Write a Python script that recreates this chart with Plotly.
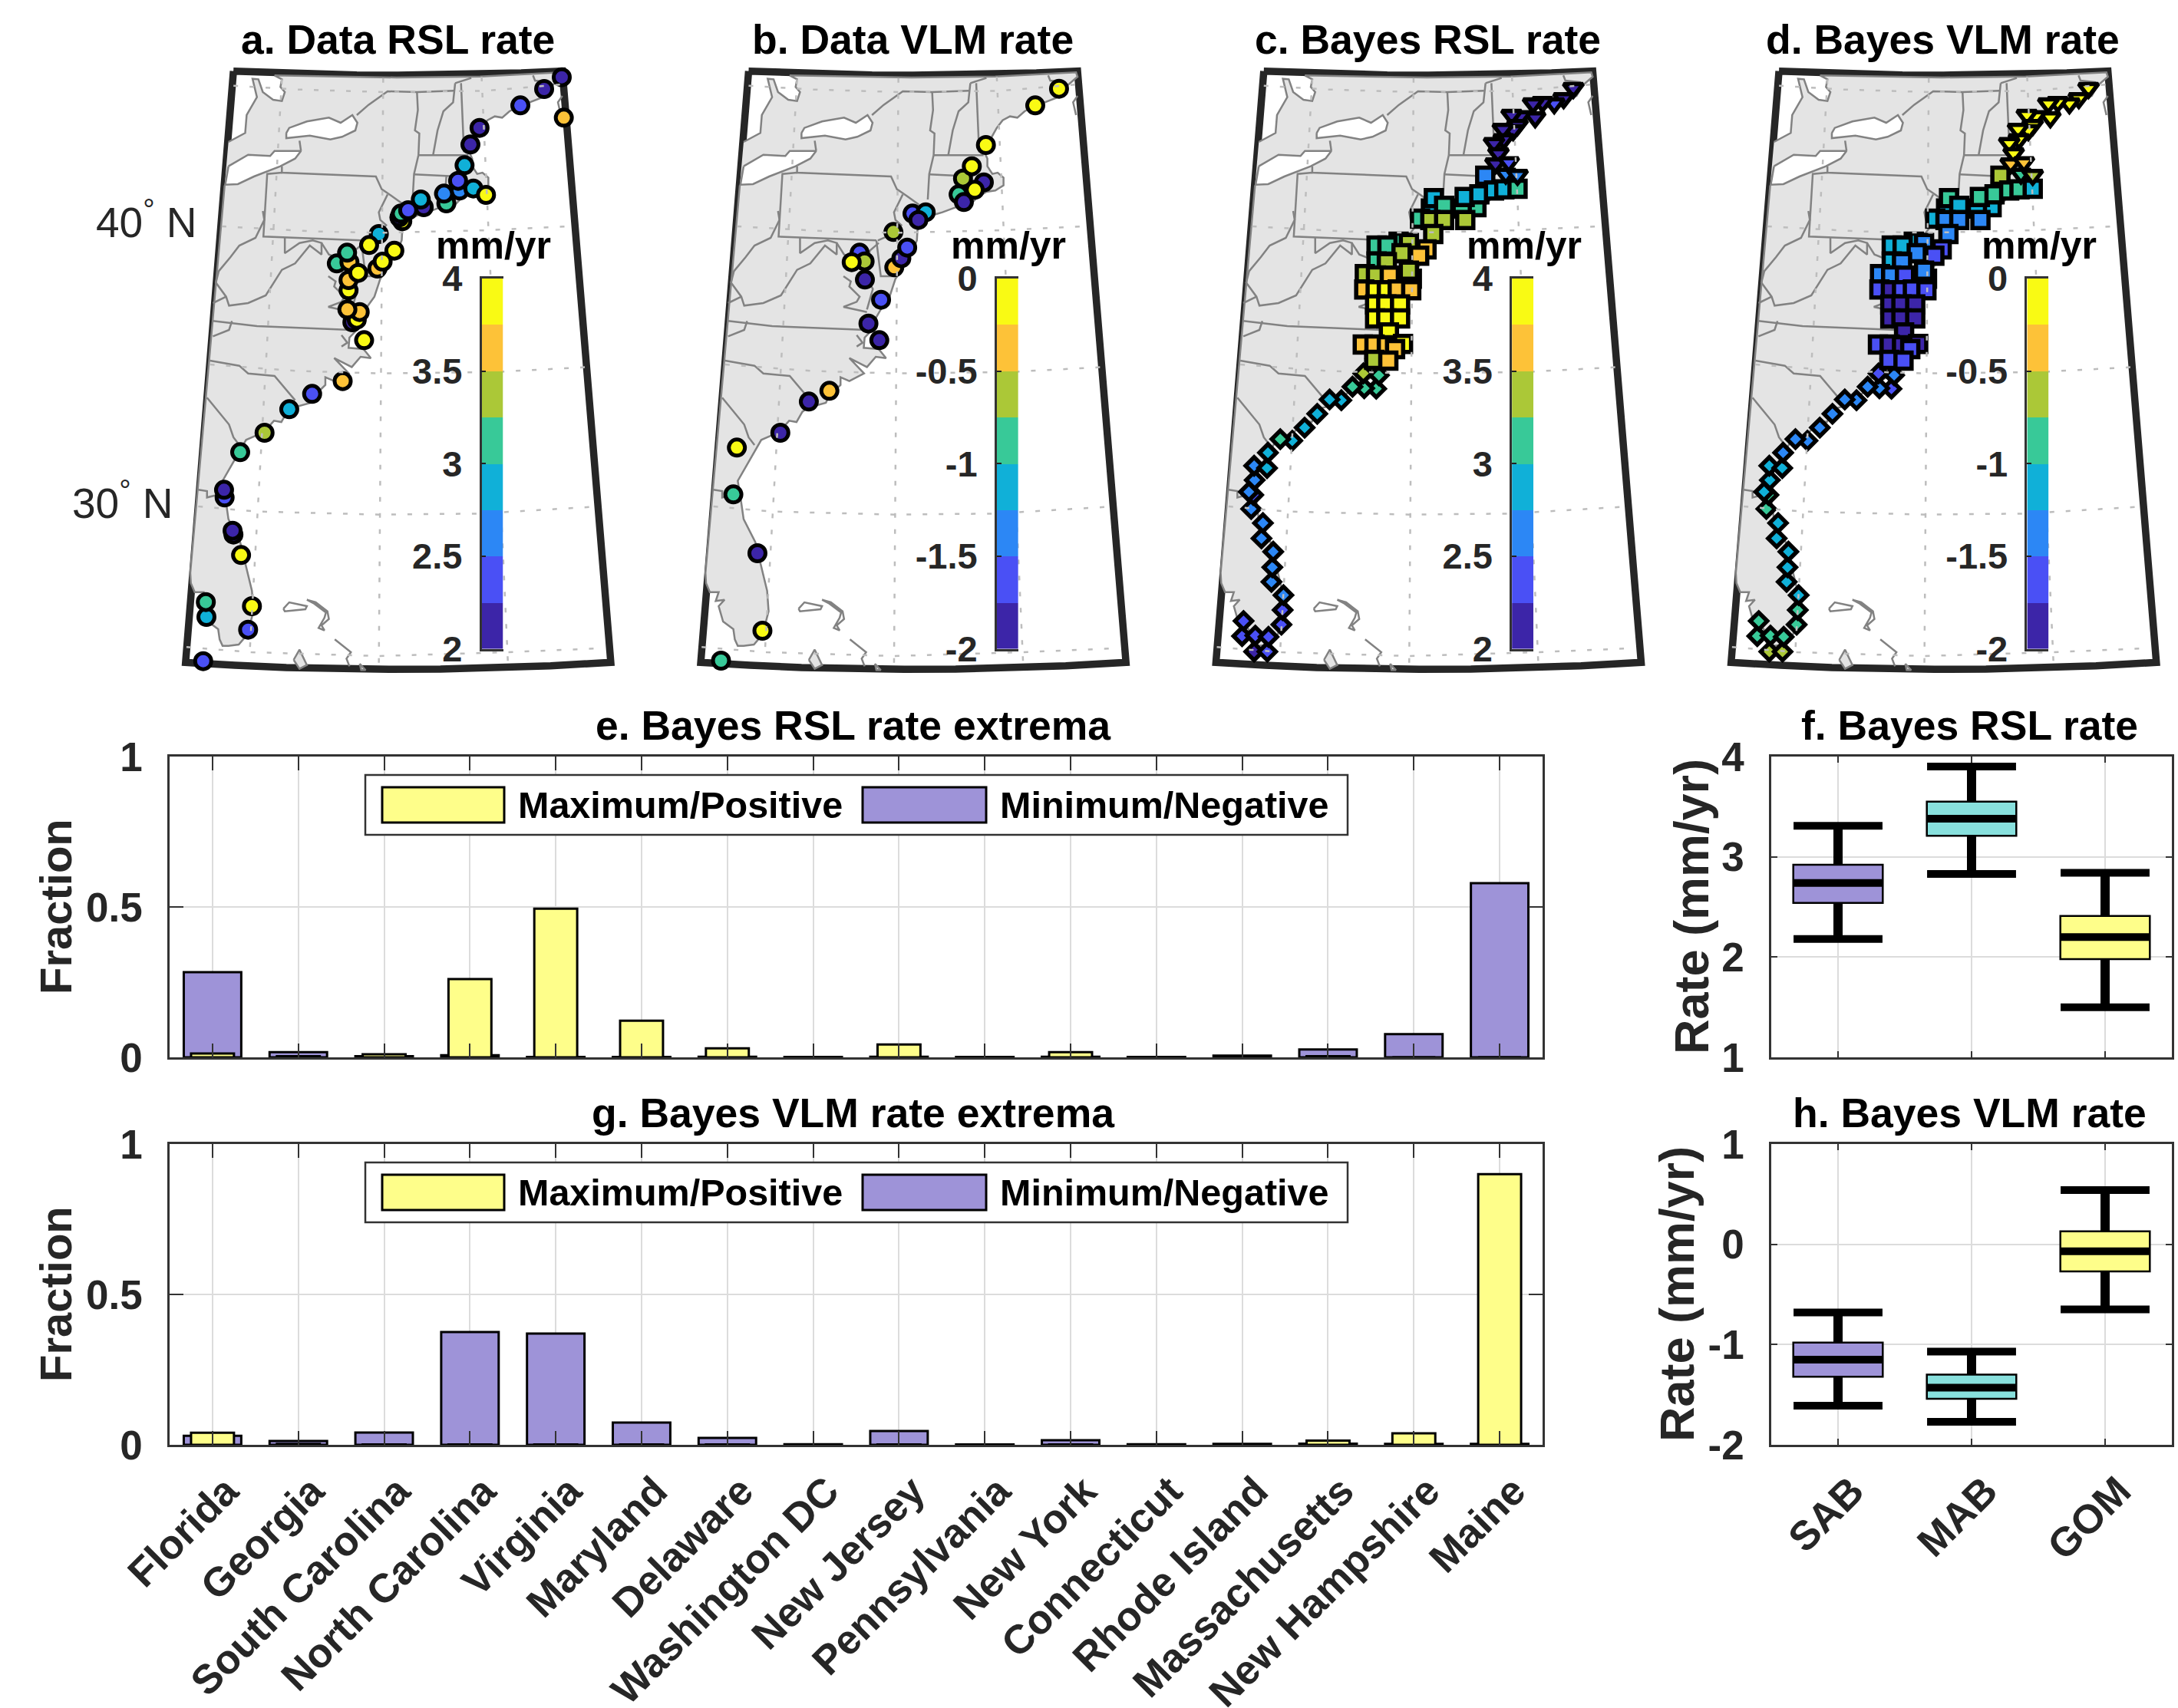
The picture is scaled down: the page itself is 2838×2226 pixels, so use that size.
import plotly.graph_objects as go

W, H = 2838, 2226
INK = "#262626"
FONT = "Liberation Sans"
PALETTE = ["#3C25A8", "#4A50F5", "#2C87F5", "#10B0D8", "#38C998", "#ABC837", "#FDC238", "#F9FA14"]

# ---------- map plane coordinates (u, v) shared by the four maps ----------
frame = [(220,68),(360,75),(500,80),(640,83),(780,84),(920,83),(1060,80),(1200,75),(1340,68),(1505,2380),(1300,2393),(1100,2402),(925,2406),(750,2407),(575,2405),(400,2400),(225,2391),(57,2380),(220,68)]
land = [(203,345),(260,310),(265,240),(300,170),(285,98),(305,100),(320,150),(355,180),(385,185),(395,150),(380,130),(385,100),(360,85),
        (570,90),(775,93),(1060,89),(1335,73),(1340,90),(1325,105),(1305,125),(1285,165),(1250,180),(1228,190),(1195,205),(1160,225),
        (1135,250),(1110,245),(1085,260),(1065,290),(1048,325),(1023,385),(1033,410),(1033,440),(1050,470),(1068,465),(1088,485),(1088,515),
        (1060,535),(1030,540),(1000,560),(975,590),(953,590),(915,605),(880,620),(850,630),(815,650),(800,660),(795,690),(793,730),(775,780),
        (755,815),(740,850),(720,880),(700,950),(675,990),(650,1040),(640,1080),(615,1110),(612,1150),(663,1155),(688,1190),(653,1185),
        (623,1225),(563,1190),(613,1250),(563,1280),(533,1265),(533,1295),(493,1340),(483,1365),(420,1385),(403,1400),(383,1440),(358,1435),
        (323,1480),(263,1510),(238,1560),(213,1610),(183,1670),(193,1740),(203,1820),(243,1910),(268,2030),(283,2100),(288,2180),(268,2270),
        (238,2310),(203,2315),(183,2315),(173,2290),(168,2250),(133,2220),(118,2160),(138,2135),(108,2140),(118,2105),(88,2105),(75,2070),
        (73,2030),(135,1230),(190,515)]
lake_ontario = [(400,310),(410,290),(470,265),(545,250),(585,270),(625,240),(642,270),(635,300),(590,325),(550,335),(480,320),(400,330),(400,310)]
lake_erie = [(203,440),(270,395),(345,400),(360,380),(450,380),(430,410),(380,440),(290,480),(235,510),(192,512),(203,440)]
cuba = [(425,2370),(445,2330),(470,2390),(445,2405),(425,2370)]
cay = [(650,2385),(670,2410),(655,2410),(650,2385)]
borders = [
    [(640,240),(680,200),(745,147),(845,150),(970,145)],
    [(995,115),(1005,385)],
    [(975,115),(968,190),(935,225),(915,300),(900,395)],
    [(975,115),(1020,100),(1030,95)],
    [(1240,85),(1247,105),(1300,112)],
    [(845,150),(848,220),(838,300),(853,312),(850,397)],
    [(850,397),(1020,397)],
    [(850,397),(835,470),(830,570)],
    [(835,472),(985,480)],
    [(945,480),(940,560)],
    [(450,380),(445,340)],
    [(385,440),(385,465),(705,480),(725,530),(745,545),(800,590)],
    [(385,465),(335,470),(322,715),(640,730),(655,730)],
    [(745,550),(715,620),(720,650),(740,670),(720,700),(660,730)],
    [(655,730),(670,870),(720,870)],
    [(320,615),(325,650),(295,720),(240,750),(210,795),(170,850),(160,895),(195,950),(205,985),(270,975),(330,945),(385,845),(430,820),
     (480,750),(520,785),(520,740),(490,730),(445,740),(395,780),(395,720)],
    [(520,740),(545,785),(600,810)],
    [(150,975),(195,950)],
    [(150,1045),(300,1065),(620,1080)],
    [(215,1045),(205,1080),(150,1105)],
    [(140,1200),(240,1220),(270,1250),(360,1260),(430,1355)],
    [(130,1345),(175,1410),(205,1450),(220,1500),(240,1530)],
    [(100,1705),(130,1710),(130,1735),(165,1725)],
    [(663,740),(633,770),(628,800),(623,880),(643,920),(633,960),(623,1000)],
    [(543,870),(568,890),(563,910),(598,950),(588,970),(543,990),(603,1005),(623,1010)],
    [(588,1100),(608,1130),(588,1145)],
    [(1340,165),(1325,190),(1335,240)],
]
islands = [
    [(390,2170),(410,2145),(470,2160),(465,2172),(395,2180),(390,2170)],
    [(470,2135),(500,2145),(540,2180),(545,2210),(520,2235),(530,2255),(510,2245),(530,2205),(535,2185),(495,2150),(470,2135)],
    [(565,2290),(620,2340),(605,2365),(615,2395)],
]
meridians = [[(385,100),(275,2350)], [(730,95),(715,2400)], [(1065,90),(1155,2390)]]
parallels = [
    [(220,125),(440,140),(730,150),(1075,145),(1340,120)],
    [(180,675),(500,695),(730,700),(1090,690),(1360,675)],
    [(140,1215),(430,1240),(720,1250),(1100,1245),(1430,1225)],
    [(100,1770),(300,1790),(720,1802),(1060,1798),(1440,1772)],
    [(60,2320),(280,2340),(715,2355),(1150,2340),(1470,2325)],
]

# ---------- tide gauge / GPS sites ----------
sites_a_xy = [(1338,92),(1278,138),(1197,202),(1345,250),(1058,290),(1027,355),(1007,436),(990,535),(945,585),(1037,527),(1080,552),(937,547),
              (985,497),(868,600),(858,570),(795,655),(785,640),(790,625),(815,612),(715,705),(682,748),(768,770),(710,840),(728,813),(572,820),
              (615,815),(607,778),(612,925),(612,885),(645,857),(625,1050),(640,1040),(650,1010),(608,1000),(665,1120),(592,1280),(488,1330),
              (410,1390),(326,1482),(243,1558),(190,1735),(188,1705),(220,1880),(217,1865),(246,1960),(283,2160),(128,2202),(126,2144),(270,2252),(117,2375)]
sites_a_rate = [2.1,2.1,2.4,3.6,2.1,2.1,2.9,2.6,3.1,2.9,3.9,2.6,2.4,2.1,2.9,3.9,2.1,3.1,2.4,2.9,3.9,3.9,3.6,3.9,3.1,3.6,3.1,3.9,3.6,3.9,2.1,3.9,3.6,3.6,3.9,
                3.6,2.4,2.9,3.4,3.1,2.4,2.1,2.1,2.1,3.9,3.9,2.9,3.1,2.4,2.4]
sites_b_xy = [(1277,137),(1196,202),(1028,357),(1021,503),(935,550),(953,580),(950,488),(980,440),(990,532),(778,625),(823,620),(798,650),(713,697),
              (716,835),(740,800),(760,758),(598,778),(615,812),(571,815),(616,883),(671,962),(628,1055),(665,1120),(495,1318),(425,1360),(328,1482),
              (180,1540),(168,1723),(250,1953),(267,2256),(126,2373)]
sites_b_rate = [-0.1,-0.1,-0.1,-1.9,-0.9,-1.9,-0.6,-0.1,-0.1,-1.6,-1.1,-1.9,-0.6,-0.4,-1.9,-1.6,-1.6,-0.6,-0.1,-1.9,-1.6,-1.9,-1.9,-0.4,-1.9,-1.9,-0.1,-0.9,-1.9,-0.1,-0.9]

# ---------- Bayesian model grid, by region ----------
gom_xy = [(1274,135),(1241,175),(1209,195),(1169,190),(1137,195),(1144,250),(1094,245),(1064,240),(1084,280),(1069,300),(1034,295),(1037,335),(1004,350),(1019,390),(1009,430),(1054,425),(1044,470),(1084,475)]
gom_rsl = [2.1,2.1,2.4,2.1,2.1,2.1,2.1,2.1,2.1,2.1,2.1,2.1,2.1,2.1,2.1,2.4,2.6,2.6]
gom_vlm = [-0.1,-0.1,-0.1,-0.1,-0.1,-0.1,-0.1,-0.1,-0.1,-0.1,-0.1,-0.1,-0.1,-0.1,-0.4,-0.4,-0.9,-0.6]
mab_xy = [(944,600),(894,605),(789,605),(799,565),(834,595),(974,477),(904,560),(954,550),(1004,535),(1039,530),(1084,528),(752,645),(787,650),(834,650),(906,650),(797,705),
          (679,735),(714,740),(604,750),(641,750),(774,765),(749,790),(689,780),(604,812),(639,815),(564,862),(602,867),(649,868),(724,880),(714,848),
          (562,922),(601,925),(639,925),(676,922),(722,925),(599,980),(637,980),(684,980),(599,1035),(637,1035),(684,1035),(646,1090),
          (694,1135),(557,1137),(597,1137),(639,1140),(667,1155),(596,1197),(644,1200)]
mab_rsl = [3.1,3.1,2.9,2.9,3.1,2.6,2.9,2.9,2.9,2.9,3.1,3.1,3.4,3.4,3.4,3.4,3.1,3.4,3.1,3.1,3.6,3.6,3.4,3.1,3.4,3.4,3.4,3.6,3.6,3.4,
           3.6,3.9,3.9,3.6,3.6,3.9,3.9,3.9,3.9,3.9,3.9,3.9,3.9,3.6,3.6,3.6,3.6,3.4,3.6]
mab_vlm = [-1.1,-1.1,-1.1,-0.9,-1.1,-0.6,-0.9,-0.9,-0.9,-0.9,-1.1,-1.1,-1.4,-1.4,-1.4,-1.4,-1.1,-1.4,-1.1,-1.1,-1.6,-1.6,-1.4,-1.1,-1.4,-1.4,-1.4,-1.6,-1.9,-1.4,
           -1.6,-1.9,-1.6,-1.6,-1.6,-1.9,-1.9,-1.9,-1.9,-1.9,-1.9,-1.9,-1.9,-1.6,-1.9,-1.9,-1.6,-1.6,-1.6]
sab_xy = [(187,2338),(232,2338),(146,2277),(191,2275),(236,2280),(151,2218),(280,2232),(284,2175),(287,2117),(246,2065),(249,2008),(252,1947),(212,1895),(217,1835),(177,1780),
          (184,1725),(169,1713),(189,1667),(187,1611),(231,1620),(234,1560),(317,1513),(276,1507),(359,1462),(402,1408),(484,1355),(444,1352),(603,1310),(562,1308),(522,1302),(612,1257),(559,1250)]
sab_rsl = [2.1,2.4,2.4,2.4,2.4,2.4,2.4,2.4,2.6,2.6,2.6,2.6,2.6,2.6,2.6,2.4,2.6,2.6,2.6,2.9,2.9,2.9,3.1,2.9,2.9,2.9,2.9,3.1,3.1,3.1,3.1,3.4]
sab_vlm = [-0.6,-0.6,-0.9,-0.9,-0.9,-0.9,-0.9,-0.9,-1.1,-1.1,-1.1,-1.1,-1.1,-1.1,-0.9,-0.9,-1.1,-1.1,-1.1,-1.1,-1.4,-1.4,-1.4,-1.4,-1.4,-1.4,-1.4,-1.6,-1.4,-1.4,-1.4,-1.6]

# ---------- bar charts ----------
states = ["Florida","Georgia","South Carolina","North Carolina","Virginia","Maryland","Delaware","Washington DC","New Jersey",
          "Pennsylvania","New York","Connecticut","Rhode Island","Massachusetts","New Hampshire","Maine"]
rsl_max = [0.013,0.004,0.010,0.260,0.494,0.122,0.030,0.000,0.043,0.001,0.017,0.001,0.002,0.004,0.000,0.000]
rsl_min = [0.283,0.017,0.004,0.007,0.001,0.001,0.002,0.001,0.002,0.001,0.002,0.001,0.006,0.026,0.077,0.579]
vlm_max = [0.040,0.003,0.001,0.001,0.001,0.001,0.001,0.000,0.001,0.000,0.001,0.000,0.001,0.014,0.038,0.900]
vlm_min = [0.030,0.013,0.041,0.375,0.370,0.074,0.023,0.002,0.046,0.001,0.015,0.002,0.003,0.004,0.003,0.003]

# ---------- regional box plots ----------
regions = ["SAB","MAB","GOM"]
box_colors = ["#9E93D8","#88E0DD","#FEFE8A"]
rsl_low, rsl_q1, rsl_med, rsl_q3, rsl_up = [2.18,2.83,1.50],[2.54,3.21,1.98],[2.74,3.38,2.20],[2.92,3.55,2.41],[3.31,3.90,2.84]
vlm_low, vlm_q1, vlm_med, vlm_q3, vlm_up = [-1.61,-1.77,-0.65],[-1.32,-1.54,-0.27],[-1.15,-1.43,-0.07],[-0.98,-1.30,0.13],[-0.68,-1.07,0.54]

map_titles = ["a. Data RSL rate","b. Data VLM rate","c. Bayes RSL rate","d. Bayes VLM rate"]
cbar_ticks_rsl = [2,2.5,3,3.5,4]
cbar_ticks_vlm = [-2,-1.5,-1,-0.5,0]
cbar_text_rsl = ["2","2.5","3","3.5","4"]
cbar_text_vlm = ["-2","-1.5","-1","-0.5","0"]

# ---------- helpers ----------
def fx(px): return px / W
def fy(py): return 1 - py / H
def xs(p): return [a for a, _ in p]
def ys(p): return [b for _, b in p]
def multi(paths):
    X, Y = [], []
    for p in paths:
        X += xs(p) + [None]; Y += ys(p) + [None]
    return X, Y

steps = []
for i, c in enumerate(PALETTE):
    steps += [[i / 8, c], [(i + 1) / 8, c]]

fig = go.Figure()
layout = dict(template="none", width=W, height=H, margin=dict(l=0, r=0, t=0, b=0, pad=0), paper_bgcolor="white", plot_bgcolor="rgba(0,0,0,0)",
              showlegend=False, barmode="overlay", font=dict(family=FONT, color=INK), hovermode=False)
anns, shapes = [], []

def txt(x, y, s, size, weight="bold", color=INK, angle=0, xanchor="center"):
    anns.append(dict(xref="paper", yref="paper", x=fx(x), y=fy(y), text=s, showarrow=False, xanchor=xanchor, yanchor="middle",
                     font=dict(family=FONT, size=size, color=color, weight=weight), textangle=angle))

STEP = 671.3
MAP_X0 = 220
for i in range(4):
    n = i + 1
    sx = "" if n == 1 else str(n)
    x0 = MAP_X0 + STEP * i
    layout[f"xaxis{sx}"] = dict(domain=[fx(x0), fx(x0 + 600)], range=[0, 1568], visible=False, fixedrange=True)
    layout[f"yaxis{sx}"] = dict(domain=[fy(970), fy(70)], range=[2700, 0], visible=False, fixedrange=True)
    ax = dict(xaxis=f"x{sx}", yaxis=f"y{sx}", hoverinfo="skip", cliponaxis=False)
    fig.add_trace(go.Scatter(x=xs(frame), y=ys(frame), mode="lines", line=dict(color=INK, width=9.5), **ax))
    fig.add_trace(go.Scatter(x=xs(land), y=ys(land), mode="lines", fill="toself", fillcolor="#E4E4E4", line=dict(color="#828282", width=2.5), **ax))
    for poly, col in ((lake_ontario, "white"), (lake_erie, "white"), (cuba, "#E4E4E4"), (cay, "#E4E4E4")):
        fig.add_trace(go.Scatter(x=xs(poly), y=ys(poly), mode="lines", fill="toself", fillcolor=col, line=dict(color="#828282", width=2.5), **ax))
    bx, by = multi(borders + islands)
    fig.add_trace(go.Scatter(x=bx, y=by, mode="lines", line=dict(color="#828282", width=2.5), **ax))

    cmin, cmax = (2, 4) if i in (0, 2) else (-2, 0)
    def pts(xy, vals, symbol, size, lw):
        fig.add_trace(go.Scatter(x=xs(xy), y=ys(xy), mode="markers",
                                 marker=dict(symbol=symbol, size=size, color=vals, colorscale=steps, cmin=cmin, cmax=cmax,
                                             showscale=False, line=dict(color="black", width=lw)), **ax))
    if i == 0:
        pts(sites_a_xy, sites_a_rate, "circle", 21, 5)
    elif i == 1:
        pts(sites_b_xy, sites_b_rate, "circle", 21, 5)
    elif i == 2:
        pts(sab_xy, sab_rsl, "diamond", 17, 5.5)
        pts(mab_xy, mab_rsl, "square", 21, 5.5)
        pts(gom_xy, gom_rsl, "triangle-down", 22, 5.5)
    else:
        pts(sab_xy, sab_vlm, "diamond", 17, 5.5)
        pts(mab_xy, mab_vlm, "square", 21, 5.5)
        pts(gom_xy, gom_vlm, "triangle-down", 22, 5.5)

    gx, gy = multi(meridians + parallels)
    fig.add_trace(go.Scatter(x=gx, y=gy, mode="lines", line=dict(color="#BDBDBD", width=2.5, dash="6px,15px"), **ax))

    # colour bar as a small heat map on its own axis
    k = 5 + i
    cx0 = 627.5 + STEP * i
    layout[f"xaxis{k}"] = dict(domain=[fx(cx0), fx(cx0 + 28)], range=[-0.5, 0.5], showticklabels=False, ticks="", showgrid=False,
                               showline=True, mirror=True, linecolor="#333333", linewidth=2.5, zeroline=False, anchor=f"y{k}", fixedrange=True)
    tv, tt = (cbar_ticks_rsl, cbar_text_rsl) if i in (0, 2) else (cbar_ticks_vlm, cbar_text_vlm)
    layout[f"yaxis{k}"] = dict(domain=[fy(845.5), fy(363)], range=[cmin, cmax], tickvals=tv, ticktext=tt, ticks="inside", ticklen=6, tickwidth=2,
                               tickcolor="#222222", showgrid=False, zeroline=False, showline=True, linecolor="#333333", linewidth=2.5, anchor=f"x{k}",
                               tickfont=dict(family=FONT, size=47, color=INK, weight="bold"), ticklabelstandoff=13, fixedrange=True)
    bands = [cmin + (j + 0.5) * 0.25 for j in range(8)]
    fig.add_trace(go.Heatmap(x=[0], y=bands, z=[[b] for b in bands], zmin=cmin, zmax=cmax, colorscale=steps, showscale=False, xaxis=f"x{k}", yaxis=f"y{k}", hoverinfo="skip"))
    txt(643 + STEP * i, 320, "mm/yr", 50, color="black")
    txt(518 + STEP * i, 51, map_titles[i], 53.5, color="black")

txt(259, 286, "40<sup>°</sup> N", 55, weight="normal", xanchor="right")
txt(228, 652, "30<sup>°</sup> N", 55, weight="normal", xanchor="right")

def base_axes(k, x0, x1, y0, y1, yrange, yticks, ytext, xvals, xtext, xrange, ticklen, labels, standoff):
    layout[f"xaxis{k}"] = dict(domain=[fx(x0), fx(x1)], range=xrange, tickvals=xvals, ticktext=xtext if labels else None, showticklabels=labels,
                               tickangle=-45, ticks="inside", ticklen=ticklen, tickwidth=2, tickcolor="#333333", showgrid=True, gridcolor="#DCDCDC", gridwidth=2,
                               zeroline=False, showline=True, mirror="ticks", linecolor="#333333", linewidth=2.5, anchor=f"y{k}", ticklabelshift=18, ticklabelstandoff=5,
                               tickfont=dict(family=FONT, size=53, color=INK, weight="bold"), fixedrange=True)
    layout[f"yaxis{k}"] = dict(domain=[fy(y1), fy(y0)], range=yrange, tickvals=yticks, ticktext=ytext, ticks="inside", ticklen=ticklen, tickwidth=2, tickcolor="#333333",
                               showgrid=True, gridcolor="#DCDCDC", gridwidth=2, zeroline=False, showline=True, mirror="ticks", linecolor="#333333", linewidth=2.5,
                               anchor=f"x{k}", tickfont=dict(family=FONT, size=53, color=INK, weight="bold"), ticklabelstandoff=standoff, fixedrange=True)

positions = list(range(1, 17))
for k, y0, ymax, ymin, title, show, dy in ((9, 986, rsl_max, rsl_min, "e. Bayes RSL rate extrema", False, 0),
                                          (10, 1491, vlm_max, vlm_min, "g. Bayes VLM rate extrema", True, 505)):
    base_axes(k, 221, 2010, y0, y0 + 392, [0, 1], [0, 0.5, 1], ["0", "0.5", "1"], positions, states, [0.5, 16.5], 18, show, 22)
    fig.add_trace(go.Bar(x=positions, y=ymin, width=0.67, marker=dict(color="#9E93D8", line=dict(color="black", width=3)), xaxis=f"x{k}", yaxis=f"y{k}", hoverinfo="skip"))
    fig.add_trace(go.Bar(x=positions, y=ymax, width=0.5, marker=dict(color="#FEFE8A", line=dict(color="black", width=3)), xaxis=f"x{k}", yaxis=f"y{k}", hoverinfo="skip"))
    txt(1112, 945 + dy, title, 53.5, color="black")
    txt(72, 1182 + dy, "Fraction", 58, angle=-90)
    shapes.append(dict(type="rect", xref="paper", yref="paper", x0=fx(476), x1=fx(1756), y0=fy(1010 + dy), y1=fy(1088 + dy), fillcolor="white", line=dict(color="#333333", width=2.5)))
    shapes.append(dict(type="rect", xref="paper", yref="paper", x0=fx(498), x1=fx(657), y0=fy(1026 + dy), y1=fy(1072 + dy), fillcolor="#FEFE8A", line=dict(color="black", width=3)))
    shapes.append(dict(type="rect", xref="paper", yref="paper", x0=fx(1124), x1=fx(1285), y0=fy(1026 + dy), y1=fy(1072 + dy), fillcolor="#9E93D8", line=dict(color="black", width=3)))
    txt(673, 1049 + dy, "Maximum/Positive", 48.5, color="black", xanchor="left")
    txt(1301, 1049 + dy, "Minimum/Negative", 48.5, color="black", xanchor="left")

box_x = [1, 2, 3]
for k, y0, rng, ticks, ttext, low, q1, med, q3, up, title, show, dy, lx in (
        (11, 986, [1, 4], [1, 2, 3, 4], ["1", "2", "3", "4"], rsl_low, rsl_q1, rsl_med, rsl_q3, rsl_up, "f. Bayes RSL rate", False, 0, 2204),
        (12, 1491, [-2, 1], [-2, -1, 0, 1], ["-2", "-1", "0", "1"], vlm_low, vlm_q1, vlm_med, vlm_q3, vlm_up, "h. Bayes VLM rate", True, 505, 2185)):
    base_axes(k, 2308, 2830, y0, y0 + 392, rng, ticks, ttext, box_x, regions, [0.5, 3.5], 8, show, 22)
    a = dict(xaxis=f"x{k}", yaxis=f"y{k}", hoverinfo="skip")
    fig.add_trace(go.Bar(x=box_x, y=[b - c for b, c in zip(q3, q1)], base=q1, width=0.67, marker=dict(color=box_colors, line=dict(color="black", width=2.5)), **a))
    wx, wy = [], []
    for x, l, b, c, u in zip(box_x, low, q1, q3, up):
        wx += [x, x, None, x, x, None]; wy += [l, b, None, c, u, None]
    fig.add_trace(go.Scatter(x=wx, y=wy, mode="lines", line=dict(color="black", width=12), **a))
    for vals in (low, up, med):
        fig.add_trace(go.Scatter(x=box_x, y=vals, mode="markers", marker=dict(size=1, opacity=0),
                                 error_x=dict(type="constant", value=0.333, thickness=10, width=0, color="black"), **a))
    txt(2566, 945 + dy, title, 53.5, color="black")
    txt(lx, 1182 + dy, "Rate (mm/yr)", 63, angle=-90)

layout["annotations"] = anns
layout["shapes"] = shapes
fig.update_layout(**layout)
fig.write_html("out.html", config={"displayModeBar": False}, post_script="document.body.style.margin='0';")
